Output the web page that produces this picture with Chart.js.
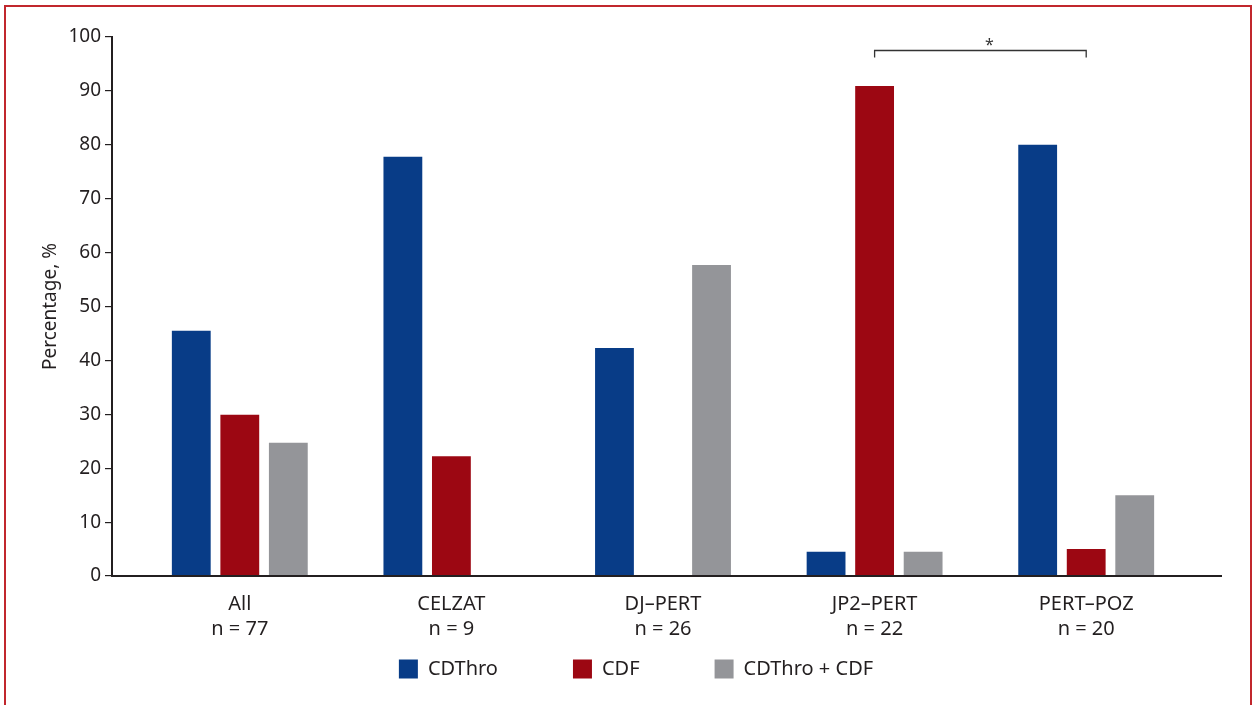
<!DOCTYPE html>
<html>
<head>
<meta charset="utf-8">
<script src="https://cdn.jsdelivr.net/npm/chart.js@4"></script>
<style>
  body { margin: 0; background: #fff; overflow: hidden; }
  #frame { position: absolute; left: 4px; top: 5px; width: 1244px; height: 760px; border: 2px solid #c1272d; }
  #wrap { position: absolute; left: 0; top: 0; width: 1253px; height: 705px; }
</style>
</head>
<body>
<div id="frame"></div>
<div id="wrap"><canvas id="chart"></canvas></div>
<script>
// donnees
const groups = ['All', 'CELZAT', 'DJ\u2013PERT', 'JP2\u2013PERT', 'PERT\u2013POZ'];
const groupN = [77, 9, 26, 22, 20];
const cdthro = [45.5, 77.8, 42.3, 4.5, 80.0];
const cdf = [29.9, 22.2, 0, 90.9, 5.0];
const both = [24.7, 0, 57.7, 4.5, 15.0];
const yTicks = [0, 10, 20, 30, 40, 50, 60, 70, 80, 90, 100];
// comparaison significative (serie CDF, groupes JP2-PERT et PERT-POZ)
const sigPair = [3, 4];

const ink = '#231f20';
const fontName = '"Noto Sans", "Open Sans", sans-serif';

// axes et crochet dessines a la main
const extras = {
    id: 'extras',
    afterLayout(chart) {
        const area = chart.chartArea;
        const x = chart.scales.x;
        x.left = area.left + 22;
        x.right = area.right - 30;
        x.width = x.right - x.left;
        x.configure();
        // legende remontee (padding horizontal large), la zone de clip garde le bas
        chart.legend.top -= 63;
        chart.legend.left += 25;
        chart.legend.right += 25;
    },
    afterDatasetsDraw(chart) {
        const ctx = chart.ctx;
        const area = chart.chartArea;
        ctx.save();
        ctx.strokeStyle = ink;
        ctx.lineWidth = 2;
        ctx.beginPath();
        ctx.moveTo(area.left - 1, area.bottom);
        ctx.lineTo(area.right, area.bottom);
        ctx.stroke();

        const meta = chart.getDatasetMeta(1);
        const x1 = meta.data[sigPair[0]].x;
        const x2 = meta.data[sigPair[1]].x;
        const y = chart.scales.y.getPixelForValue(97.5);
        ctx.lineWidth = 1.3;
        ctx.strokeStyle = '#333';
        ctx.beginPath();
        ctx.moveTo(x1, y + 7);
        ctx.lineTo(x1, y);
        ctx.lineTo(x2, y);
        ctx.lineTo(x2, y + 7);
        ctx.stroke();
        ctx.fillStyle = '#333';
        ctx.font = '16px ' + fontName;
        ctx.textAlign = 'center';
        ctx.textBaseline = 'middle';
        ctx.fillText('*', (x1 + x2) / 2 + 9, y - 5);
        ctx.restore();
    }
};

new Chart(document.getElementById('chart'), {
    type: 'bar',
    data: {
        labels: groups.map((g, i) => [g, 'n = ' + groupN[i]]),
        datasets: [
            { label: 'CDThro', data: cdthro, backgroundColor: '#083c87' },
            { label: 'CDF', data: cdf, backgroundColor: '#9c0712' },
            { label: 'CDThro + CDF', data: both, backgroundColor: '#949599' }
        ]
    },
    options: {
        responsive: true,
        maintainAspectRatio: false,
        animation: false,
        datasets: { bar: { categoryPercentage: 0.688, barPercentage: 0.8 } },
        layout: { padding: { left: 0, top: 37, right: 31, bottom: 19 } },
        plugins: {
            tooltip: { enabled: false },
            legend: {
                position: 'bottom',
                maxHeight: 39,
                labels: {
                    boxWidth: 19,
                    boxHeight: 19,
                    padding: 75,
                    color: ink,
                    font: { family: fontName, size: 20 }
                }
            }
        },
        scales: {
            x: {
                grid: { display: false, drawTicks: false },
                border: { display: false },
                ticks: { color: ink, padding: 16, font: { family: fontName, size: 20, lineHeight: 1.25 } },
                afterFit(scale) { scale.height = 71; }
            },
            y: {
                min: 0,
                max: 100,
                afterBuildTicks(scale) { scale.ticks = yTicks.map(v => ({ value: v })); },
                afterFit(scale) { scale.width = 112; },
                grid: { drawOnChartArea: false, tickLength: 7, color: ink, lineWidth: 1.2 },
                border: { display: true, color: ink, width: 2 },
                ticks: { color: ink, padding: 4, font: { family: fontName, size: 19 } },
                title: {
                    display: true,
                    text: 'Percentage, %',
                    color: ink,
                    padding: { top: 39, bottom: 0 },
                    font: { family: fontName, size: 19 }
                }
            }
        }
    },
    plugins: [extras]
});
</script>
</body>
</html>
